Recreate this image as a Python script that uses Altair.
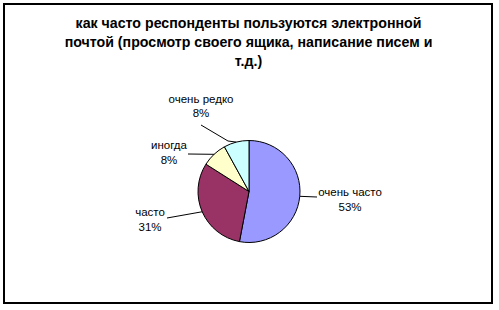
import math
import altair as alt
import pandas as pd

# ---- data ----
categories = ["очень часто", "часто", "иногда", "очень редко"]
values = [53, 31, 8, 8]
colors = ["#9999FF", "#993366", "#FFFFCC", "#CCFFFF"]
title_lines = [
    "как часто респонденты пользуются электронной",
    "почтой (просмотр своего ящика, написание писем и",
    "т.д.)",
]

# ---- layout (view coordinates, view origin at page (4,4)) ----
OX, OY = 4, 4
CX, CY, R = 249 - OX, 191.5 - OY, 51
label_x = [350, 150, 169, 201]
label_y = [196, 216, 149, 102.5]
leader_pts = [
    [(317, 197)],
    [(167, 218)],
    [(188, 154)],
    [(228, 141), (201, 125)],
]

total = sum(values)
base = pd.DataFrame({"category": categories, "value": values,
                     "idx": list(range(len(values)))})

lab = pd.DataFrame({
    "category": categories,
    "pct": [f"{round(v / total * 100)}%" for v in values],
    "lx": [x - OX for x in label_x],
    "ly": [y - OY for y in label_y],
})

rows = []
cum = 0
for c, v, pts in zip(categories, values, leader_pts):
    a = (cum + v / 2) / total * 2 * math.pi
    cum += v
    rows.append({"category": c, "seq": 0,
                 "px": CX + R * math.sin(a), "py": CY - R * math.cos(a)})
    for k, (x, y) in enumerate(pts):
        rows.append({"category": c, "seq": k + 1, "px": x - OX, "py": y - OY})
lead = pd.DataFrame(rows)

titles = pd.DataFrame({"t": title_lines, "k": list(range(len(title_lines)))})

pie = alt.Chart(base).mark_arc(outerRadius=R, stroke="black", strokeWidth=1).encode(
    theta=alt.Theta("value:Q", stack=True),
    color=alt.Color("category:N", scale=alt.Scale(domain=categories, range=colors), legend=None),
    order=alt.Order("idx:Q"),
    x=alt.value(CX),
    y=alt.value(CY),
)

lines = alt.Chart(lead).mark_line(color="black", strokeWidth=1).encode(
    x=alt.X("px:Q", scale=None, axis=None),
    y=alt.Y("py:Q", scale=None, axis=None),
    detail="category:N",
    order="seq:Q",
)

font = "Liberation Sans"
name_txt = alt.Chart(lab).mark_text(font=font, fontSize=11.5, align="center",
                                    baseline="alphabetic", color="black").encode(
    x=alt.X("lx:Q", scale=None, axis=None),
    y=alt.Y("ly:Q", scale=None, axis=None),
    text="category:N",
)
pct_txt = alt.Chart(lab).mark_text(font=font, fontSize=11.5, align="center",
                                   baseline="alphabetic", color="black", dy=14.5).encode(
    x=alt.X("lx:Q", scale=None, axis=None),
    y=alt.Y("ly:Q", scale=None, axis=None),
    text="pct:N",
)

title_txt = alt.Chart(titles).mark_text(font=font, fontSize=14.2, fontWeight="bold",
                                        align="center", baseline="alphabetic",
                                        color="black").encode(
    x=alt.value(248.5 - OX),
    y=alt.Y("k:Q", scale=alt.Scale(domain=[0, 2], range=[28 - OY, 66 - OY]), axis=None),
    text="t:N",
)

chart = alt.layer(pie, lines, name_txt, pct_txt, title_txt).properties(
    width=488, height=299,
    padding={"left": 4, "top": 4, "right": 7, "bottom": 7},
    autosize=alt.AutoSizeParams(type="none"),
    background="white",
).configure_view(stroke="black", strokeWidth=2)

chart.save("out.html", embed_options={"renderer": "svg", "actions": False})
